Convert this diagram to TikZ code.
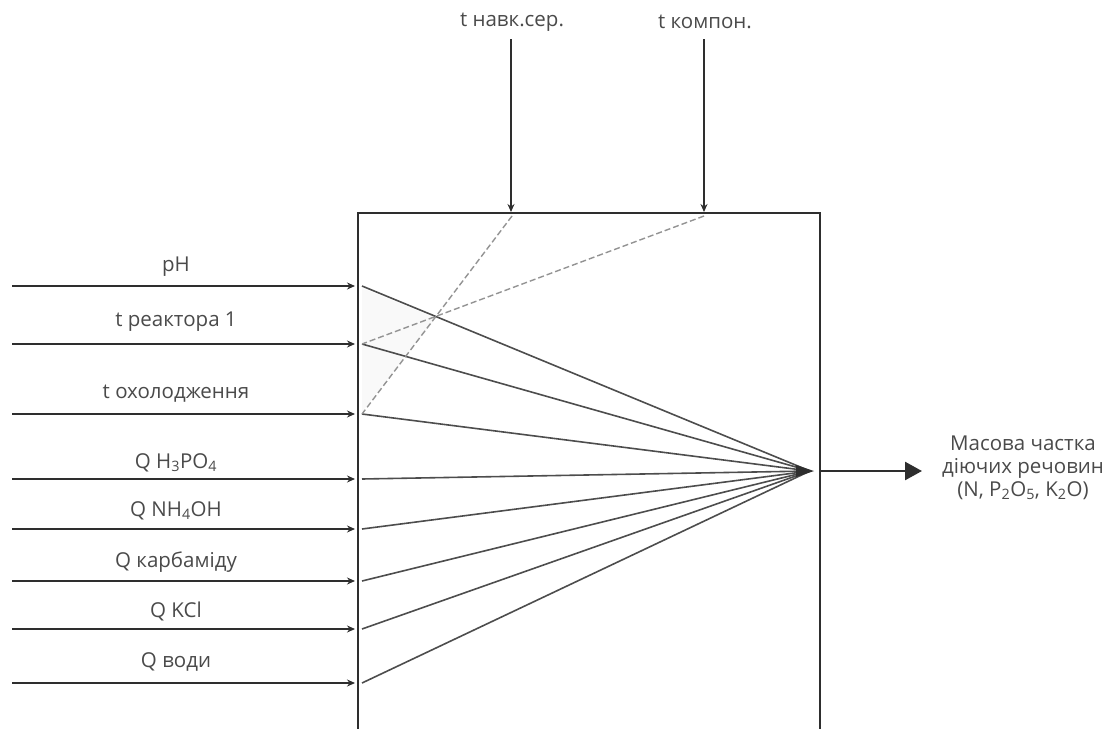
\documentclass[tikz,border=0pt]{standalone}
\usepackage{fontspec}
\setmainfont{Open Sans}
\usetikzlibrary{arrows.meta}
\definecolor{txt}{HTML}{4A4A4A}
\definecolor{ln}{HTML}{2E2E2E}
\tikzset{
  lbl/.style={text=txt,font=\fontsize{20.5}{23}\selectfont,inner sep=0pt,align=center},
  inarrow/.style={draw=ln,line width=1.8pt,-{Stealth[length=8pt,width=7pt]}},
  boxline/.style={draw=ln,line width=2.4pt},
  ray/.style={draw=ln!85,line width=1.6pt},
  dashray/.style={draw=gray!85,line width=1.4pt,dash pattern=on 6pt off 3pt},
  outarrow/.style={draw=ln,line width=2.6pt,-{Triangle[length=17pt,width=18pt]}}
}
\begin{document}
\begin{tikzpicture}[x=1pt,y=-1pt]
\useasboundingbox (0,0) rectangle (1113,728);
% box
\coordinate (bl) at (358,730);
\coordinate (tl) at (358,213);
\coordinate (tr) at (820,213);
\coordinate (br) at (820,730);
% convergence
\coordinate (c) at (810,471);
% faint fill
\fill[gray!5] (362,288) -- (436,318) -- (362,412) -- cycle;
\draw[boxline] (bl) -- (tl) -- (tr) -- (br);
% inputs
\foreach \n/\y/\ly/\t in {a/286/267/{pH},b/344/322/{t реактора 1},c2/414/394/{t охолодження},d/479/463/{Q H\textsubscript{3}PO\textsubscript{4}},e/529/511/{Q NH\textsubscript{4}OH},f/581/562/{Q карбаміду},g/629/611/{Q KCl},h/683/662/{Q води}}{
  \coordinate (s\n) at (12,\y);
  \coordinate (e\n) at (355,\y);
  \coordinate (r\n) at (362,\y);
  \node[lbl] (l\n) at (176,\ly) {\t};
  \draw[inarrow] (s\n) -- (e\n);
  \draw[ray] (r\n) -- (c);
}
% top inputs
\node[lbl] (ltop1) at (512,22) {t навк.сер.};
\node[lbl] (ltop2) at (705,22) {t компон.};
\coordinate (t1s) at (511,39);
\coordinate (t1e) at (511,212);
\coordinate (t2s) at (704,39);
\coordinate (t2e) at (704,212);
\draw[inarrow] (t1s) -- (t1e);
\draw[inarrow] (t2s) -- (t2e);
\draw[dashray] (512,216) -- (rc2);
\draw[dashray] (704,216) -- (rb);
% convergence arrowhead
\fill[ln] (796,465) -- (814,471) -- (796,477) -- cycle;
% output
\coordinate (os) at (821,471);
\coordinate (oe) at (922,471);
\draw[outarrow] (os) -- (oe);
\node[lbl] (out) at (1023,468) {Масова частка\\діючих речовин\\(N, P\textsubscript{2}O\textsubscript{5}, K\textsubscript{2}O)};
\end{tikzpicture}
\end{document}
